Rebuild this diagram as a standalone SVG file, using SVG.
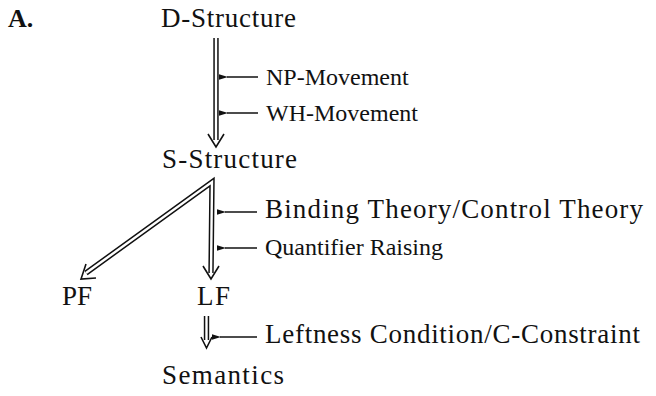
<svg xmlns="http://www.w3.org/2000/svg" width="656" height="396" viewBox="0 0 656 396">
<style>
text{font-family:"Liberation Serif","Times New Roman",serif;font-size:27px;fill:#111}
.b{font-weight:bold;font-size:26px}
.r{font-size:27px}
.rs{font-size:24px}
.dbl{fill:none;stroke:#111;stroke-width:5.4;stroke-linejoin:miter}
.inn{fill:none;stroke:#fff;stroke-width:2.4;stroke-linejoin:miter}
.head{fill:none;stroke:#111;stroke-width:1.6;stroke-linejoin:miter}
.rule{stroke:#111;stroke-width:1.5;fill:none}
</style>
<defs>
<marker id="sa" markerWidth="10" markerHeight="8" refX="1" refY="4" orient="auto" markerUnits="userSpaceOnUse">
<path d="M9,1.3 L0,4 L9,6.7 Z" fill="#111"/>
</marker>
</defs>
<text class="b" x="8" y="27">A.</text>
<g id="d-structure"><text x="161" y="27" textLength="135" lengthAdjust="spacing">D-Structure</text></g>
<g id="s-structure"><text x="162" y="168" textLength="135" lengthAdjust="spacing">S-Structure</text></g>
<g id="pf"><text x="62" y="305" textLength="30" lengthAdjust="spacing">PF</text></g>
<g id="lf"><text x="197" y="305" textLength="33" lengthAdjust="spacing">LF</text></g>
<g id="semantics"><text x="162" y="384" textLength="122" lengthAdjust="spacing">Semantics</text></g>
<g id="connectors">
<path class="dbl" d="M216,38 V140"/>
<path class="inn" d="M216,37 V141"/>
<path class="head" d="M208,134 L216,147 L224,134"/>
<path class="dbl" d="M86,273 L212,182 L211,273"/>
<path class="inn" d="M86,273 L212,182 L211,274"/>
<path class="head" d="M203,266 L211,279 L219,266"/>
<path class="head" d="M86,264 L81,279 L96,278"/>
<path class="dbl" d="M206.5,316 V340"/>
<path class="inn" d="M206.5,315 V341"/>
<path class="head" d="M201,337 L206.5,348 L212,337"/>
</g>
<g id="rule-np"><line class="rule" x1="258" y1="77" x2="227" y2="77" marker-end="url(#sa)"/><text class="rs" x="266" y="85">NP-Movement</text></g>
<g id="rule-wh"><line class="rule" x1="258" y1="113" x2="227" y2="113" marker-end="url(#sa)"/><text class="rs" x="266" y="121">WH-Movement</text></g>
<g id="rule-binding"><line class="rule" x1="257" y1="212" x2="225" y2="212" marker-end="url(#sa)"/><text class="r" x="265" y="218" textLength="378" lengthAdjust="spacing">Binding Theory/Control Theory</text></g>
<g id="rule-qr"><line class="rule" x1="257" y1="248" x2="225" y2="248" marker-end="url(#sa)"/><text class="rs" x="265" y="255">Quantifier Raising</text></g>
<g id="rule-leftness"><line class="rule" x1="257" y1="337" x2="220" y2="337" marker-end="url(#sa)"/><text class="r" x="265" y="343" textLength="375" lengthAdjust="spacing">Leftness Condition/C-Constraint</text></g>
</svg>
